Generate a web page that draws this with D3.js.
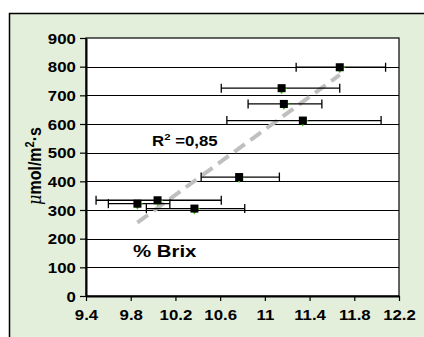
<!DOCTYPE html>
<html>
<head>
<meta charset="utf-8">
<script src="https://cdn.jsdelivr.net/npm/d3@7"></script>
<style>
  html, body { margin: 0; padding: 0; background: #fff; }
  svg { display: block; font-family: "Liberation Sans", Arial, sans-serif; }
</style>
</head>
<body>
<div id="chart"></div>
<script>
// data
const brix = [11.67, 11.15, 11.17, 11.34, 10.77, 9.86, 10.04, 10.37];
const brixLow = [11.28, 10.61, 10.85, 10.66, 10.43, 9.60, 9.49, 9.94];
const brixHigh = [12.08, 11.67, 11.51, 12.04, 11.13, 10.15, 10.61, 10.82];
const photo = [798, 725, 670, 612, 415, 322, 334, 305];
const xTicks = [9.4, 9.8, 10.2, 10.6, 11, 11.4, 11.8, 12.2];
const yTicks = [0, 100, 200, 300, 400, 500, 600, 700, 800, 900];
const r2Label = '0,85';

const W = 424, H = 337;
const margin = { top: 38, right: 25, bottom: 41, left: 86 };
const width = W - margin.left - margin.right;
const height = H - margin.top - margin.bottom;

const root = d3.select('#chart').append('svg').attr('width', W).attr('height', H);

// outer chart frame (runs off the right and bottom edges)
root.append('rect')
  .attr('x', 9.5).attr('y', 13.5)
  .attr('width', W).attr('height', H)
  .attr('fill', '#e3eedb')
  .attr('stroke', '#000').attr('stroke-width', 1.5);

const svg = root.append('g').attr('transform', `translate(${margin.left},${margin.top})`);

const x = d3.scaleLinear().domain([9.4, 12.2]).range([0, width]);
const y = d3.scaleLinear().domain([0, 900]).range([height, 0]);

svg.append('rect')
  .attr('width', width).attr('height', height)
  .attr('fill', '#fff').attr('stroke', '#000').attr('stroke-width', 1.2);

// horizontal gridlines
svg.selectAll('.grid')
  .data(yTicks.filter((d) => d > 0 && d < 900))
  .enter()
  .append('line')
  .attr('class', 'grid')
  .attr('x1', 0).attr('x2', width)
  .attr('y1', (d) => Math.round(y(d)) + 0.5).attr('y2', (d) => Math.round(y(d)) + 0.5)
  .attr('stroke', '#000').attr('stroke-width', 1);

const yAxis = svg.append('g')
  .call(d3.axisLeft(y).tickValues(yTicks).tickSize(6).tickSizeOuter(0).tickFormat(d3.format('d')));
const xAxis = svg.append('g')
  .attr('transform', `translate(0,${height})`)
  .call(d3.axisBottom(x).tickValues(xTicks).tickSize(5).tickSizeOuter(0).tickFormat((d) => String(d)));

[yAxis, xAxis].forEach((a) => {
  a.select('.domain').attr('stroke', '#000').attr('stroke-width', 2);
  a.selectAll('.tick line').attr('stroke', '#000').attr('stroke-width', 1.2);
  a.selectAll('.tick text')
    .attr('fill', '#000')
    .style('font-family', '"Liberation Sans", Arial, sans-serif')
    .style('font-weight', 'bold')
    .style('font-size', '14px');
});
yAxis.selectAll('.tick text').attr('x', -8.5).attr('dy', '0.36em')
  .attr('transform', 'scale(1.2,1)');
xAxis.selectAll('.tick text').attr('y', 14).attr('dy', '0.71em')
  .attr('transform', 'scale(1.2,1)');

// trend line (least squares through the points)
const mx = d3.mean(brix), my = d3.mean(photo);
const sxy = d3.sum(brix, (v, i) => (v - mx) * (photo[i] - my));
const sxx = d3.sum(brix, (v) => (v - mx) ** 2);
const slope = sxy / sxx, icpt = my - slope * mx;
const ext = d3.extent(brix);
svg.append('line')
  .attr('x1', x(ext[0])).attr('y1', y(icpt + slope * ext[0]))
  .attr('x2', x(ext[1])).attr('y2', y(icpt + slope * ext[1]))
  .attr('stroke', '#bfbfbf').attr('stroke-width', 4)
  .attr('stroke-dasharray', '13,7');

// horizontal error bars
const idx = d3.range(brix.length);
const eb = svg.selectAll('.err').data(idx).enter().append('g').attr('class', 'err')
  .attr('stroke', '#000').attr('stroke-width', 1.3);
eb.append('line')
  .attr('x1', (i) => x(brixLow[i])).attr('x2', (i) => x(brixHigh[i]))
  .attr('y1', (i) => y(photo[i])).attr('y2', (i) => y(photo[i]));
eb.append('line')
  .attr('x1', (i) => x(brixLow[i])).attr('x2', (i) => x(brixLow[i]))
  .attr('y1', (i) => y(photo[i]) - 4.5).attr('y2', (i) => y(photo[i]) + 4.5);
eb.append('line')
  .attr('x1', (i) => x(brixHigh[i])).attr('x2', (i) => x(brixHigh[i]))
  .attr('y1', (i) => y(photo[i]) - 4.5).attr('y2', (i) => y(photo[i]) + 4.5);

// markers: small green fleck under a black square
svg.selectAll('.fleck').data(idx).enter().append('path')
  .attr('class', 'fleck')
  .attr('d', (i) => `M${x(brix[i]) - 2},${y(photo[i]) + 3} L${x(brix[i]) + 2},${y(photo[i]) + 3} L${x(brix[i])},${y(photo[i]) + 6}Z
     M${x(brix[i]) + 3},${y(photo[i]) - 1} L${x(brix[i]) + 6},${y(photo[i])} L${x(brix[i]) + 3},${y(photo[i]) + 1}Z`)
  .attr('fill', '#33cc00');
svg.selectAll('.pt').data(idx).enter().append('rect')
  .attr('class', 'pt')
  .attr('x', (i) => x(brix[i]) - 4).attr('y', (i) => y(photo[i]) - 4)
  .attr('width', 8).attr('height', 8)
  .attr('fill', '#000');

// R² annotation
const r2 = root.append('text')
  .attr('transform', 'translate(152,146) scale(1.2,1)')
  .style('font-weight', 'bold').style('font-size', '14px');
r2.append('tspan').text('R');
r2.append('tspan').attr('dy', -6).style('font-size', '9.5px').text('2');
r2.append('tspan').attr('dy', 6).text(' =' + r2Label);

// x title sits inside the plot
root.append('text')
  .attr('transform', 'translate(133,257) scale(1.2,1)')
  .style('font-weight', 'bold').style('font-size', '17px')
  .text('% Brix');

// y title
const yt = root.append('text')
  .attr('transform', 'translate(41,166) rotate(-90) scale(1,1.2)')
  .attr('text-anchor', 'middle')
  .style('font-weight', 'bold').style('font-size', '16px');
yt.append('tspan').style('font-style', 'italic').style('font-weight', 'normal')
  .style('font-family', '"DejaVu Serif", serif').text('μ');
yt.append('tspan').text('mol/m');
yt.append('tspan').attr('dy', -6).style('font-size', '11px').text('2');
yt.append('tspan').attr('dy', 6).text('·s');
</script>
</body>
</html>
